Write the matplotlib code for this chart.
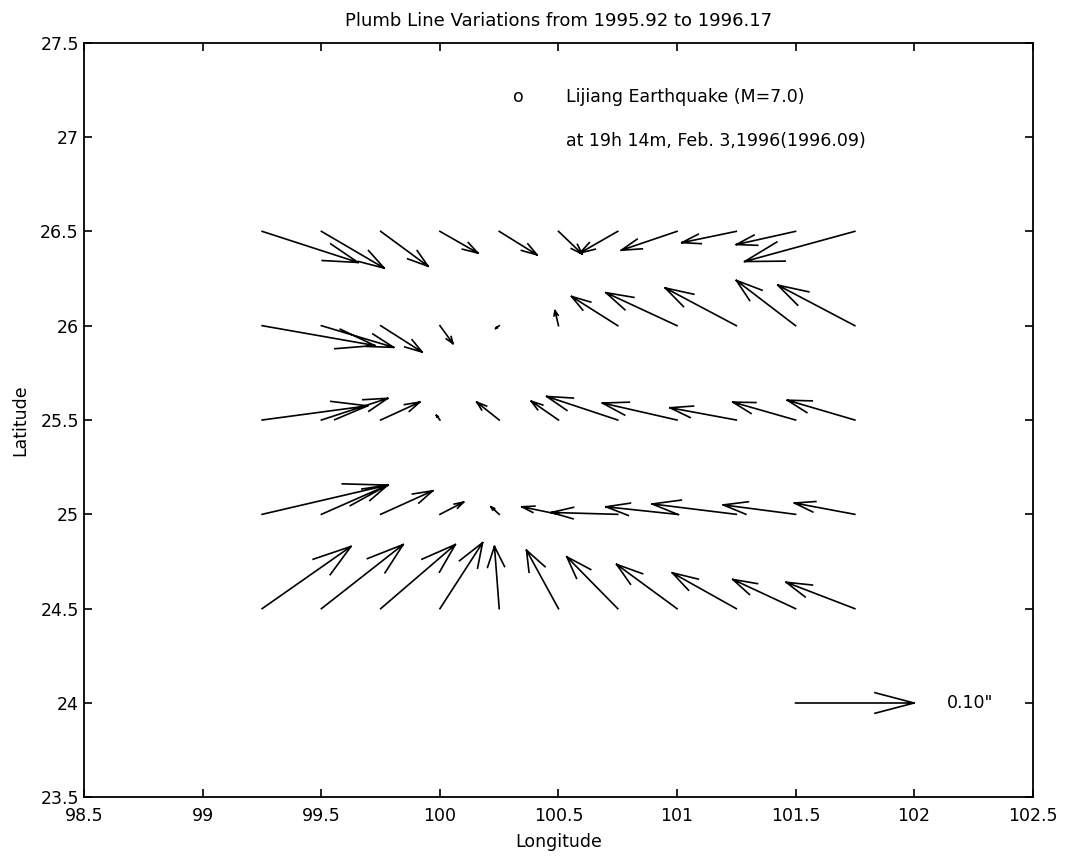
import numpy as np
import matplotlib.pyplot as plt

plt.rcParams['font.family'] = ['DejaVu Sans']

# station grid
lon = [99.25, 99.5, 99.75, 100.0, 100.25, 100.5, 100.75, 101.0, 101.25, 101.5, 101.75]
lat = [26.5, 26.0, 25.5, 25.0, 24.5]

# plumb line variation, east (u) and north (v) components in arcsec, one list per latitude row
u_265 = [0.081, 0.053, 0.040, 0.032, 0.032, 0.020, -0.032, -0.047, -0.046, -0.050, -0.093]
v_265 = [-0.033, -0.039, -0.037, -0.023, -0.025, -0.024, -0.023, -0.020, -0.012, -0.014, -0.032]
u_260 = [0.095, 0.061, 0.035, 0.011, -0.003, -0.003, -0.039, -0.060, -0.060, -0.050, -0.065]
v_260 = [-0.021, -0.023, -0.028, -0.019, -0.003, 0.016, 0.031, 0.035, 0.040, 0.048, 0.043]
u_255 = [0.089, 0.056, 0.033, -0.003, -0.019, -0.023, -0.060, -0.063, -0.056, -0.053, -0.057]
v_255 = [0.015, 0.023, 0.019, 0.005, 0.019, 0.020, 0.025, 0.018, 0.013, 0.019, 0.021]
u_250 = [0.106, 0.056, 0.044, 0.020, -0.007, -0.031, -0.056, -0.060, -0.071, -0.061, -0.051]
v_250 = [0.031, 0.031, 0.025, 0.013, 0.008, 0.008, 0.002, 0.008, 0.011, 0.010, 0.012]
u_245 = [0.075, 0.069, 0.063, 0.036, -0.004, -0.027, -0.043, -0.051, -0.054, -0.053, -0.058]
v_245 = [0.066, 0.068, 0.068, 0.070, 0.066, 0.062, 0.055, 0.047, 0.038, 0.031, 0.028]

# reference arrow
ref_lon, ref_lat, ref_val = 101.5, 24.0, 0.10

deg_per_arcsec = 5.0  # drawing scale

U = np.array([u_265, u_260, u_255, u_250, u_245]) * deg_per_arcsec
V = np.array([v_265, v_260, v_255, v_250, v_245]) * deg_per_arcsec
X, Y = np.meshgrid(lon, lat)


def quiver_lines(x, y, u, v, alpha=0.33, beta=0.33):
    # matlab style open arrows: shaft + two barbs
    xs, ys = [], []
    for x0, y0, du, dv in zip(np.ravel(x), np.ravel(y), np.ravel(u), np.ravel(v)):
        tx, ty = x0 + du, y0 + dv
        xs += [x0, tx, np.nan]
        ys += [y0, ty, np.nan]
        xs += [tx - alpha * (du + beta * dv), tx, tx - alpha * (du - beta * dv), np.nan]
        ys += [ty - alpha * (dv - beta * du), ty, ty - alpha * (dv + beta * du), np.nan]
    return xs, ys


fs = 12.5

fig = plt.figure(figsize=(10.74, 8.59), dpi=100)
ax = fig.add_axes([0.0785, 0.0718, 0.883, 0.8785])

qx, qy = quiver_lines(X, Y, U, V)
ax.plot(qx, qy, color='black', lw=1.2)

rx, ry = quiver_lines([ref_lon], [ref_lat], [ref_val * deg_per_arcsec], [0.0])
ax.plot(rx, ry, color='black', lw=1.2)
ax.text(102.14, ref_lat, '0.10"', fontsize=fs, ha='left', va='center')

ax.text(100.33, 27.21, 'o', fontsize=fs, ha='center', va='center')
ax.text(100.53, 27.21, 'Lijiang Earthquake (M=7.0)', fontsize=fs, ha='left', va='center')
ax.text(100.53, 26.98, 'at 19h 14m, Feb. 3,1996(1996.09)', fontsize=fs, ha='left', va='center')

ax.set_xlim(98.5, 102.5)
ax.set_ylim(23.5, 27.5)
ax.set_xticks(np.arange(98.5, 102.51, 0.5))
ax.set_yticks(np.arange(23.5, 27.51, 0.5))
ax.set_xticklabels(['98.5', '99', '99.5', '100', '100.5', '101', '101.5', '102', '102.5'])
ax.set_yticklabels(['23.5', '24', '24.5', '25', '25.5', '26', '26.5', '27', '27.5'])
ax.tick_params(direction='in', top=True, right=True, length=6, width=1.2, labelsize=fs)
ax.tick_params(axis='x', pad=7)
ax.tick_params(axis='y', pad=4)
for s in ax.spines.values():
    s.set_linewidth(1.3)

ax.set_title('Plumb Line Variations from 1995.92 to 1996.17', fontsize=fs + 0.5, pad=12)
ax.set_xlabel('Longitude', fontsize=fs, labelpad=6)
ax.set_ylabel('Latitude', fontsize=fs, labelpad=8)

plt.savefig('out.png', dpi=100)
